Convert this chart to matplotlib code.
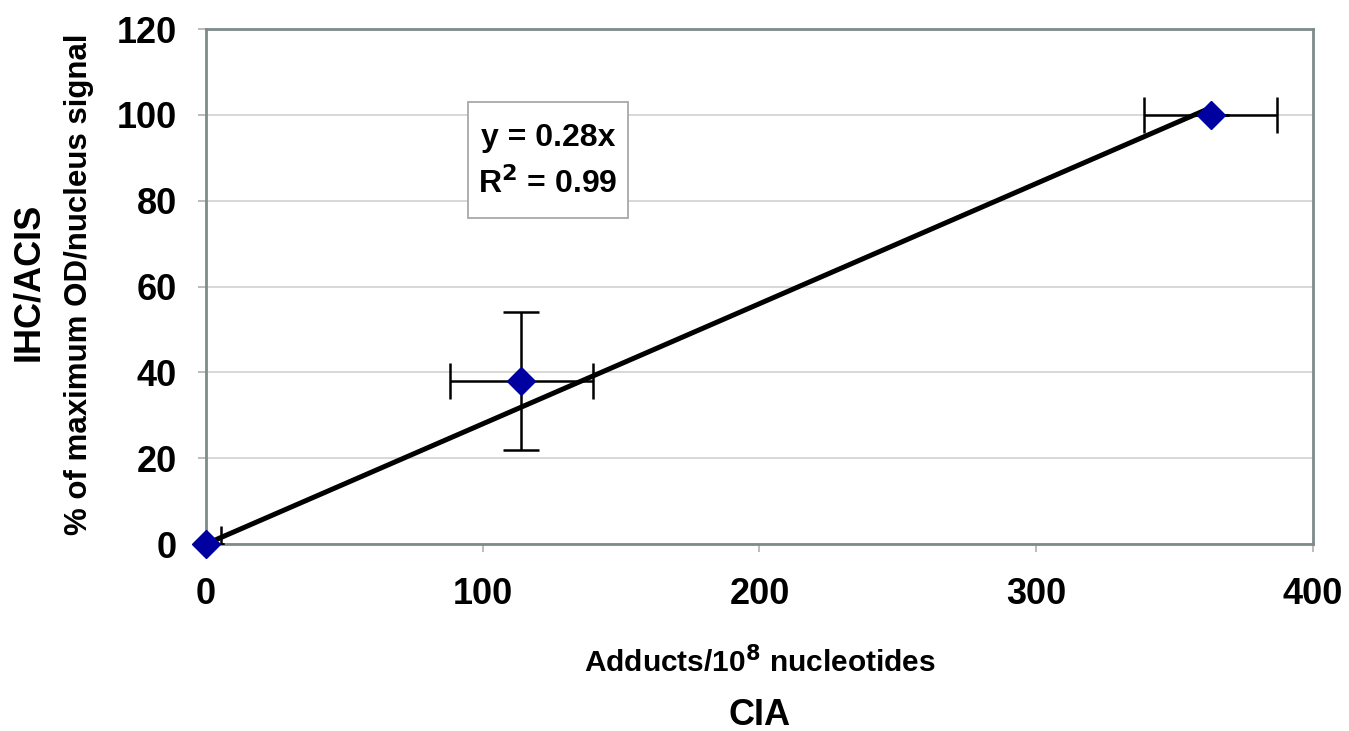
import matplotlib.pyplot as plt
from matplotlib.patches import Rectangle

plt.rcParams['font.family'] = 'Liberation Sans'
plt.rcParams['font.weight'] = 'bold'

# Dane
adducts = [0, 114, 363]          # CIA, adducts/10^8 nucleotides
od_signal = [0, 38, 100]         # IHC/ACIS, % of max OD/nucleus
adducts_err = [5.5, 26, 24]
od_err = [0, 16, 0]
slope = 0.28
eq_text = 'y = 0.28x\nR$^\\mathbf{2}$ = 0.99'

grid_col = '#d4d4d4'
spine_col = '#7d8b8b'

fig = plt.figure(figsize=(13.49, 7.31), dpi=100)
ax = fig.add_axes([0.1527, 0.2558, 0.8206, 0.7045])

# linia trendu
x_line = [0, max(adducts)]
y_line = [slope * v for v in x_line]
ax.plot(x_line, y_line, color='black', lw=3.6, zorder=3, solid_capstyle='butt')

ax.errorbar(adducts, od_signal, xerr=adducts_err, yerr=od_err, fmt='none',
            ecolor='black', elinewidth=1.8, capsize=13, capthick=1.8, zorder=4)
ax.plot(adducts, od_signal, 'D', color='#0000a0', ms=14, mec='#0000a0',
        zorder=5, clip_on=False)

ax.set_xlim(0, 400)
ax.set_ylim(0, 120)
ax.set_xticks([0, 100, 200, 300, 400])
ax.set_yticks([0, 20, 40, 60, 80, 100, 120])
ax.yaxis.grid(True, color=grid_col, lw=1.3)
ax.set_axisbelow(True)
for s in ax.spines.values():
    s.set_color(spine_col)
    s.set_linewidth(2)
ax.tick_params(axis='both', labelsize=26, direction='out', length=6,
               color='#b0b0b0', width=1.2)
ax.tick_params(axis='y', pad=15)
ax.tick_params(axis='x', pad=18)

# ramka z równaniem
ax.add_patch(Rectangle((0.2367, 0.633), 0.1445, 0.2252, transform=ax.transAxes,
                       facecolor='white', edgecolor='#a8a8a8', lw=1.3, zorder=6))
ax.text(0.309, 0.743, eq_text, transform=ax.transAxes, ha='center', va='center',
        fontsize=23, fontweight='bold', linespacing=1.55, zorder=7)

fig.text(0.5634, 0.094, 'Adducts/10$^\\mathbf{8}$ nucleotides', ha='center',
         va='center', fontsize=21.5, fontweight='bold')
fig.text(0.5634, 0.021, 'CIA', ha='center', va='center', fontsize=26,
         fontweight='bold')
fig.text(0.021, 0.614, 'IHC/ACIS', rotation=90, ha='center', va='center',
         fontsize=26, fontweight='bold')
fig.text(0.0585, 0.611, '% of maximum OD/nucleus signal', rotation=90,
         ha='center', va='center', fontsize=22.5, fontweight='bold')

fig.savefig('out.png', dpi=100)
